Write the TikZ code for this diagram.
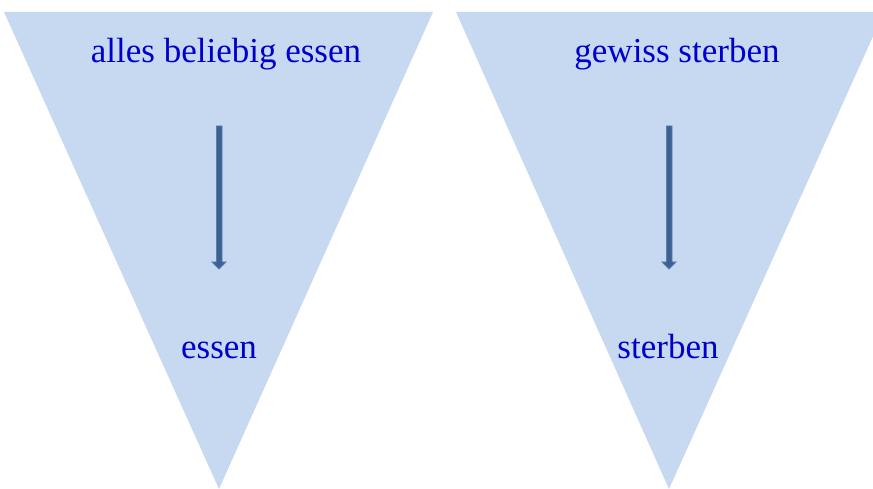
\documentclass[tikz,border=0pt]{standalone}
\usepackage{fontspec}
\setmainfont{Liberation Serif}
\definecolor{funnel}{HTML}{C6D9F0}
\definecolor{labelblue}{HTML}{0000CC}
\definecolor{shaft}{HTML}{3B6091}
\definecolor{shaftedge}{HTML}{5A7FAE}
\begin{document}
\begin{tikzpicture}[x=1pt,y=-1pt,
  funnelshape/.style={fill=funnel,draw=none},
  lbl/.style={text=labelblue,font=\fontsize{35}{40}\selectfont,inner sep=0pt,anchor=base},
  downarrow/.style={fill=shaft,draw=shaftedge,line width=0.8pt}]
\useasboundingbox (0,0) rectangle (873,489);
\begin{scope}
\clip (0,0) rectangle (873,489);
% two funnels
\fill[funnelshape] (4,12) -- (433,12) -- (219,489) -- cycle;
\fill[funnelshape] (456,12) -- (884,12) -- (669,489) -- cycle;
\end{scope}
% labels
\node[lbl] (topL) at (226,63) {alles beliebig essen};
\node[lbl] (botL) at (219,358) {essen};
\node[lbl] (topR) at (677,63) {gewiss sterben};
\node[lbl] (botR) at (668,358) {sterben};
% arrows
\draw[downarrow] (216.5,126) -- (222,126) -- (222,262) -- (226,262) -- (219,269) -- (212,262) -- (216.5,262) -- cycle;
\draw[downarrow] (666.5,126) -- (672,126) -- (672,262) -- (676,262) -- (669,269) -- (662,262) -- (666.5,262) -- cycle;
\end{tikzpicture}
\end{document}
